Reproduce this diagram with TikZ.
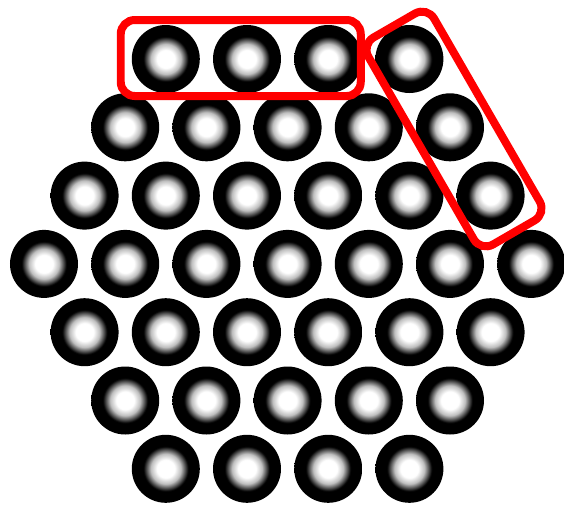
\documentclass[tikz,border=0pt]{standalone}
\usepackage{tikz}
\usetikzlibrary{shapes}
\pgfdeclareradialshading{rodcore}{\pgfpoint{0bp}{0bp}}{color(0bp)=(white); color(6.5bp)=(white); color(11bp)=(white!75!black); color(16.5bp)=(black); color(25bp)=(black); color(50bp)=(black)}
\begin{document}
\begin{tikzpicture}[x=0.5pt,y=-0.5pt]
			\tikzset{rod/.style={circle, inner sep=0pt, minimum size=34pt, shade, shading=rodcore},
				redbox/.style={draw=red, line width=4pt, rounded corners=7pt, rectangle, inner sep=0pt, minimum width=120pt, minimum height=38pt}};
			\useasboundingbox (0,0) rectangle (564,505);
			\foreach \i in {1,...,7}{
				\pgfmathtruncatemacro\off{abs(\i-4)}
				\pgfmathtruncatemacro\n{7-\off}
				\foreach \j in {1,...,\n}
					\node[rod] (r\i-\j) at ({44+40.6*\off+81.2*(\j-1)},{59+68.3*(\i-1)}) {};
			}
			\node[redbox] (row) at (240.75,58) {};
			\node[redbox, minimum width=119.5pt, rotate=-60] (diag) at (454,129) {};
			\end{tikzpicture}
\end{document}
